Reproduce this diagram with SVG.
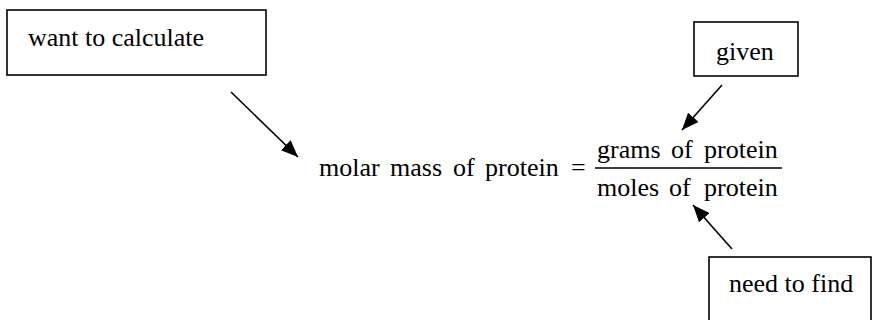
<svg xmlns="http://www.w3.org/2000/svg" width="872" height="320" viewBox="0 0 872 320">
<style>
text{font-family:'Liberation Serif','Times New Roman',serif;font-size:26px;fill:#000}
.box{fill:#fff;stroke:#000;stroke-width:1.6}
.conn{stroke:#000;stroke-width:1.6;fill:none}
</style>
<defs>
<marker id="ah" markerUnits="userSpaceOnUse" markerWidth="18" markerHeight="14" refX="17" refY="7" orient="auto">
<path d="M0,0 L17,7 L0,14 Z" fill="#000"/>
</marker>
</defs>
<rect width="872" height="320" fill="#fff"/>
<g id="want">
<rect class="box" x="7" y="10" width="259" height="65"/>
<text x="28" y="46">want to calculate</text>
</g>
<g id="given">
<rect class="box" x="694" y="22" width="104" height="54"/>
<text x="716" y="60">given</text>
</g>
<g id="need">
<rect class="box" x="709" y="257" width="162" height="80"/>
<text x="729" y="292">need to find</text>
</g>
<g id="equation">
<text y="176"><tspan x="319">molar</tspan><tspan x="390">mass</tspan><tspan x="453">of</tspan><tspan x="485">protein</tspan><tspan x="571">=</tspan></text>
<text y="158"><tspan x="597">grams</tspan><tspan x="671">of</tspan><tspan x="704">protein</tspan></text>
<line x1="595" y1="168" x2="782" y2="168" stroke="#000" stroke-width="1.3"/>
<text y="196"><tspan x="597">moles</tspan><tspan x="669">of</tspan><tspan x="704">protein</tspan></text>
</g>
<g id="connectors">
<line class="conn" x1="231" y1="92" x2="298" y2="157" marker-end="url(#ah)"/>
<line class="conn" x1="722" y1="85" x2="682" y2="130" marker-end="url(#ah)"/>
<line class="conn" x1="732" y1="249" x2="693" y2="205" marker-end="url(#ah)"/>
</g>
</svg>
